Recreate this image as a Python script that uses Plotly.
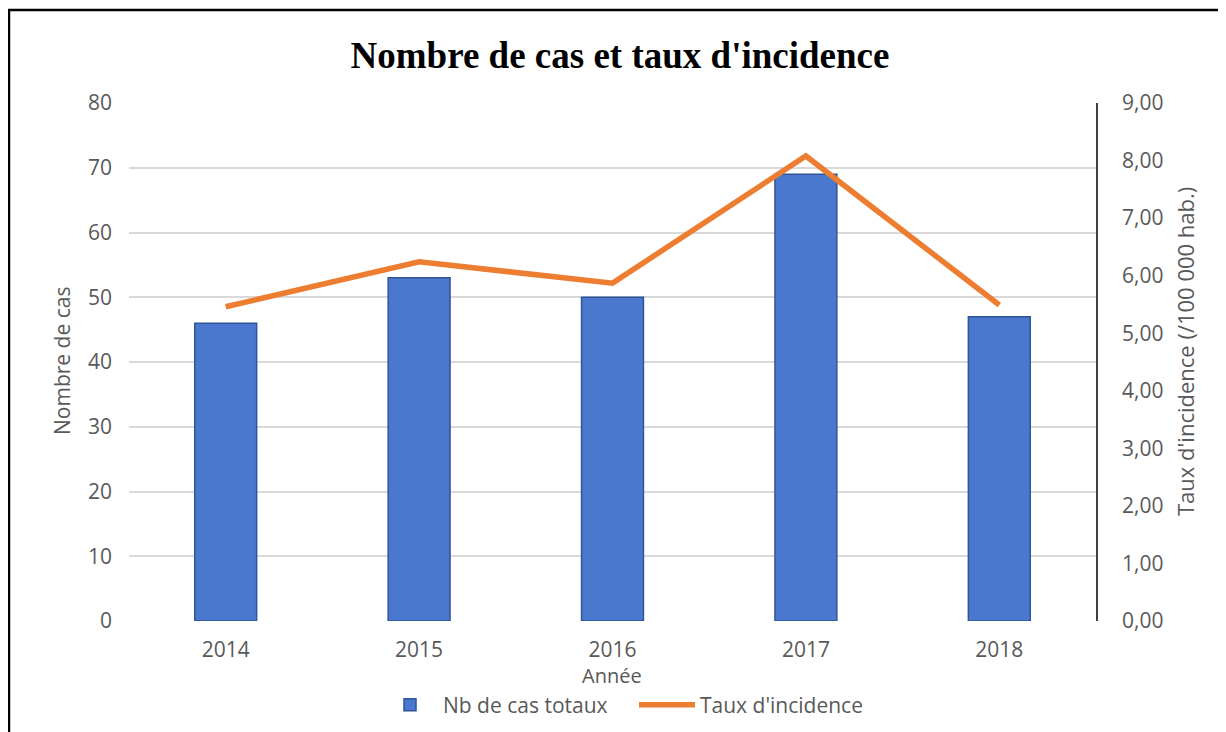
import plotly.graph_objects as go

years = ["2014", "2015", "2016", "2017", "2018"]
nb_cas = [46, 53, 50, 69, 47]
taux = [5.46, 6.24, 5.87, 8.08, 5.49]

# The page body adds an 8px margin; figure coordinates are offset accordingly.
OFF = 8
W, H = 1226 - OFF, 732 - OFF
L, T = 129 - OFF, 103 - OFF
R = W - (1096 - OFF)
B = H - (621 - OFF)
pw, ph = W - L - R, H - T - B

def px(x):
    return (x - OFF - L) / pw

def py(y):
    return (H - B - (y - OFF)) / ph

font_main = "Open Sans, Lato, sans-serif"
grey = "#595959"

fig = go.Figure()
fig.add_trace(go.Bar(
    x=years, y=nb_cas, name="Nb de cas totaux", width=0.32,
    marker=dict(color="#4a78cf", line=dict(color="#2f5597", width=1.5)),
    yaxis="y",
))
fig.add_trace(go.Scatter(
    x=years, y=taux, name="Taux d'incidence", mode="lines",
    line=dict(color="#ED7D31", width=5.5),
    yaxis="y2",
))

fig.update_layout(
    width=W, height=H,
    margin=dict(l=L, r=R, t=T, b=B, autoexpand=False),
    paper_bgcolor="white", plot_bgcolor="white",
    separators=", ",
    font=dict(family=font_main, size=21, color=grey),
    title=dict(
        text="<b>Nombre de cas et taux d'incidence</b>",
        font=dict(family="Liberation Serif, Times New Roman, serif", size=37, color="black"),
        x=(620 - OFF) / W, xanchor="center", xref="container",
        y=1 - (55 - OFF) / H, yanchor="middle", yref="container",
    ),
    xaxis=dict(
        type="category", showgrid=False, showline=False, zeroline=False,
        ticks="", ticklabelstandoff=14,
        tickfont=dict(size=21, color=grey),
    ),
    yaxis=dict(
        range=[0, 80], dtick=10, showgrid=True, gridcolor="#d9d9d9", gridwidth=1.5,
        zeroline=False, showline=False, ticks="", ticklabelstandoff=16,
        tickfont=dict(size=21, color=grey),
    ),
    yaxis2=dict(
        range=[0, 9], dtick=1, tickformat=".2f", overlaying="y", side="right",
        showgrid=False, zeroline=False, showline=True, linecolor="#404040", linewidth=1.5,
        ticks="", ticklabelstandoff=20,
        tickfont=dict(size=21, color=grey),
    ),
    legend=dict(
        orientation="h", x=px(377), xanchor="left", y=py(705), yanchor="middle",
        font=dict(size=21, color=grey), itemwidth=56, entrywidth=186,
        bgcolor="rgba(0,0,0,0)",
    ),
    annotations=[
        dict(text="Nombre de cas", textangle=-90, x=px(62), y=py(361),
             xref="paper", yref="paper", showarrow=False,
             font=dict(size=21, color=grey), xanchor="center", yanchor="middle"),
        dict(text="Taux d'incidence (/100 000 hab.)", textangle=-90, x=px(1185), y=py(352),
             xref="paper", yref="paper", showarrow=False,
             font=dict(size=22, color=grey), xanchor="center", yanchor="middle"),
        dict(text="Année", x=px(612), y=py(675),
             xref="paper", yref="paper", showarrow=False,
             font=dict(size=20, color=grey), xanchor="center", yanchor="middle"),
    ],
    shapes=[
        dict(type="line", xref="paper", yref="paper", x0=px(9), x1=px(9), y0=py(10), y1=py(745),
             line=dict(color="black", width=2.5)),
        dict(type="line", xref="paper", yref="paper", x0=px(8), x1=px(1240), y0=py(10), y1=py(10),
             line=dict(color="black", width=2.5)),
    ],
)

fig.write_html("out.html")
